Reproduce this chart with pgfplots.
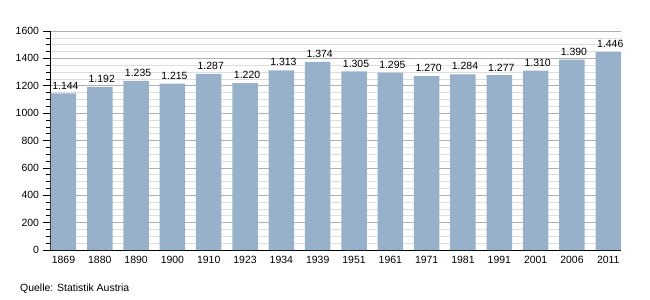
\documentclass[border=0pt]{standalone}
\usepackage{fontspec}
\setmainfont{Liberation Sans}
\usepackage{pgfplots}
\pgfplotsset{compat=1.18}
\definecolor{barblue}{RGB}{151,177,203}
\definecolor{majgrid}{RGB}{175,175,175}
\definecolor{mingrid}{RGB}{222,222,222}
\begin{document}
\begin{tikzpicture}
\path[use as bounding box] (0,0) rectangle (650bp,300bp);
\begin{axis}[
  at={(50bp,50bp)}, anchor=south west,
  scale only axis, width=571bp, height=219bp,
  xmin=-0.37, xmax=15.35, ymin=0, ymax=1600,
  axis x line*=bottom, axis y line*=left,
  axis line style={black, line width=0.8pt, -},
  xtick={0,...,15},
  xticklabels={1869,1880,1890,1900,1910,1923,1934,1939,1951,1961,1971,1981,1991,2001,2006,2011},
  x tick style={draw=none},
  ytick={0,200,...,1600},
  minor y tick num=3,
  tick align=outside,
  major tick length=7bp, minor tick length=4bp,
  y tick style={black, line width=0.6pt},
  ymajorgrids, yminorgrids,
  major grid style={majgrid, line width=0.6pt},
  minor grid style={mingrid, line width=0.6pt},
  ticklabel style={font=\fontsize{10.5}{12}\selectfont},
  yticklabel style={xshift=-0.5bp},
  xticklabel style={yshift=4bp},
  /pgf/number format/assume math mode=true,
  /pgf/number format/1000 sep={},
  ybar, bar width=25.5bp,
  nodes near coords={\pgfmathprintnumber[1000 sep={.}]{\pgfplotspointmeta}},
  every node near coord/.append style={font=\fontsize{10.5}{12}\selectfont, black, inner sep=1bp, yshift=3bp, xshift=2bp},
  clip=false,
]
\addplot[fill=barblue, draw=none, bar shift=0pt] coordinates {
(0,1144) (1,1192) (2,1235) (3,1215) (4,1287) (5,1220) (6,1313) (7,1374)
(8,1305) (9,1295) (10,1270) (11,1284) (12,1277) (13,1310) (14,1390) (15,1446)};
\end{axis}
\node[anchor=west, inner sep=0pt, font=\fontsize{10.5}{12}\selectfont] at (20bp,11bp) {Quelle: Statistik Austria};
\end{tikzpicture}
\end{document}
